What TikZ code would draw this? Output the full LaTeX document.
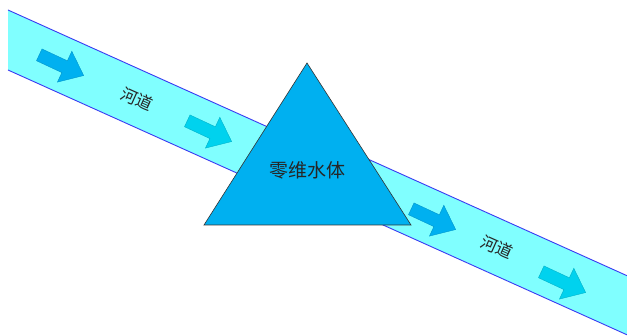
\documentclass[tikz,border=0pt]{standalone}
\usepackage{fontspec}
\newfontfamily\cjk{Noto Sans CJK SC}
\definecolor{bandfill}{HTML}{80FFFF}
\definecolor{bandline}{HTML}{3A3AF2}
\definecolor{trifill}{HTML}{00B0F0}
\definecolor{arrA}{HTML}{00B0F0}
\definecolor{arrB}{HTML}{00D2EE}
\tikzset{
  bandbody/.style={fill=bandfill, draw=none},
  bandedge/.style={draw=bandline, line width=0.9pt},
  tribody/.style={fill=trifill, draw=black!80, line width=0.6pt, line join=miter},
  rivertext/.style={font=\cjk\fontsize{16.5}{18}\selectfont, text=black!85, inner sep=0pt},
  tritext/.style={font=\cjk\fontsize{19}{21}\selectfont, text=black!85, inner sep=0pt},
  flowarrow/.pic={
    \path[pic actions] (-24,-6.5) -- (4,-6.5) -- (4,-17) -- (25,0) -- (4,17) -- (4,6.5) -- (-24,6.5) -- cycle;
  },
  arrowA/.style={fill=arrA, draw=arrA!85!black, line width=0.4pt, rotate=-25},
  arrowB/.style={fill=arrB, draw=arrB!85!black, line width=0.4pt, rotate=-25}
}
\begin{document}
\begin{tikzpicture}[x=1pt, y=-1pt]
\useasboundingbox (0,0) rectangle (627,336);
\fill[white] (0,0) rectangle (627,336);
% left river band
\coordinate (L1) at (8,10);
\coordinate (L2) at (330,155);
\coordinate (L3) at (330,215);
\coordinate (L4) at (8,70);
\path[bandbody] (L1) -- (L2) -- (L3) -- (L4) -- cycle;
\draw[bandedge] (L1) -- (L2);
\draw[bandedge] (L4) -- (L3);
% right river band
\coordinate (R1) at (300,128.5);
\coordinate (R2) at (627,275.7);
\coordinate (R3) at (627,334.8);
\coordinate (R4) at (300,187.6);
\path[bandbody] (R1) -- (R2) -- (R3) -- (R4) -- cycle;
\draw[bandedge] (R1) -- (R2);
\draw[bandedge] (R4) -- (R3);
% flow arrows
\pic[arrowA] (a1) at (61,65) {flowarrow};
\pic[arrowB] (a2) at (209,131) {flowarrow};
\pic[arrowA] (a3) at (433,219) {flowarrow};
\pic[arrowB] (a4) at (563,282) {flowarrow};
% labels
\node[rivertext, rotate=-24] (l1) at (137,99) {河道};
\node[rivertext, rotate=-24] (l2) at (497,247) {河道};
% triangle
\coordinate (tA) at (307,63);
\coordinate (tB) at (204,225);
\coordinate (tC) at (411,225);
\draw[tribody] (tA) -- (tB) -- (tC) -- cycle;
\node[tritext] (tt) at (307,170) {零维水体};
\end{tikzpicture}
\end{document}
